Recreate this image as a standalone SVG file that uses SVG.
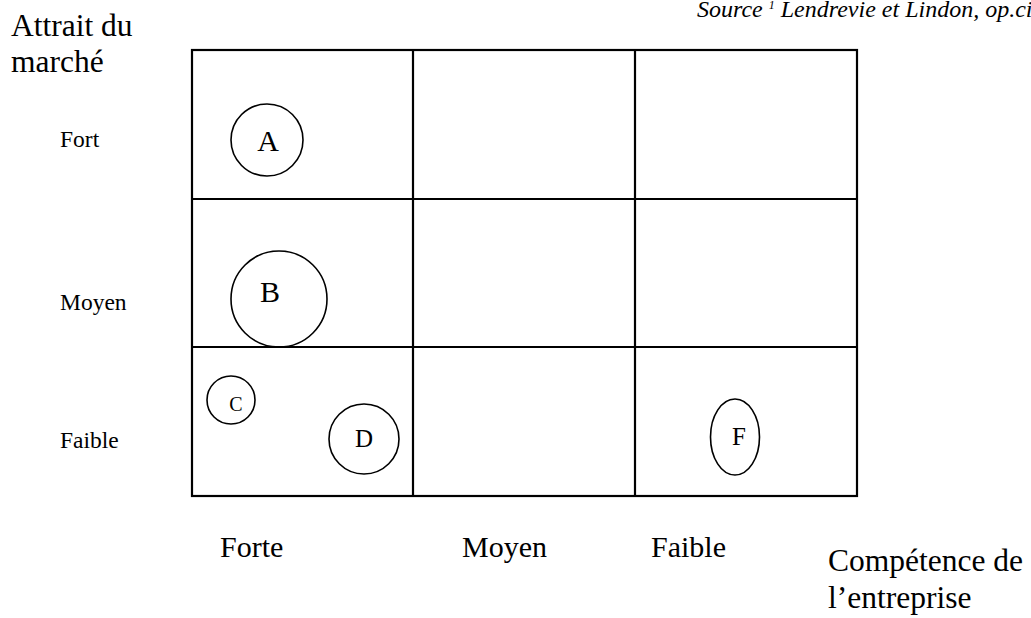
<svg xmlns="http://www.w3.org/2000/svg" width="1031" height="618" viewBox="0 0 1031 618">
  <style>
    text { font-family: "Liberation Serif", "Times New Roman", serif; fill: #000; }
    .title { font-size: 31.5px; }
    .big { font-size: 30px; }
    .small { font-size: 23.5px; }
    .src { font-size: 24px; font-style: italic; }
    .grid { fill: none; stroke: #000; stroke-width: 2.2; }
    .bubble { fill: none; stroke: #000; stroke-width: 1.6; }
    .lbl { text-anchor: middle; }
  </style>
  <rect width="1031" height="618" fill="#fff"/>

  <!-- source note (runs past the right edge) -->
  <text class="src" x="697" y="17">Source <tspan font-size="12" dy="-8">1</tspan><tspan dy="8"> Lendrevie et Lindon, op.cit.</tspan></text>

  <!-- vertical axis title and row labels -->
  <text class="title" x="11" y="36">Attrait du</text>
  <text class="title" x="11" y="72">marché</text>
  <text class="small" x="60" y="147">Fort</text>
  <text class="small" x="60" y="310">Moyen</text>
  <text class="small" x="60" y="448">Faible</text>

  <!-- horizontal axis labels -->
  <text class="big" x="220" y="557">Forte</text>
  <text class="big" x="462" y="557">Moyen</text>
  <text class="big" x="651" y="557">Faible</text>
  <text class="title" x="828" y="571">Compétence de</text>
  <text class="title" x="828" y="608">l’entreprise</text>

  <!-- 3x3 matrix -->
  <g id="matrix">
    <rect class="grid" x="192" y="50" width="665" height="446"/>
    <line class="grid" x1="413" y1="50" x2="413" y2="496"/>
    <line class="grid" x1="635" y1="50" x2="635" y2="496"/>
    <line class="grid" x1="192" y1="199" x2="857" y2="199"/>
    <line class="grid" x1="192" y1="347" x2="857" y2="347"/>
  </g>

  <!-- activity bubbles -->
  <g id="node-A">
    <circle class="bubble" cx="267" cy="140" r="36"/>
    <text class="big lbl" x="268" y="151">A</text>
  </g>
  <g id="node-B">
    <circle class="bubble" cx="279" cy="299" r="48"/>
    <text class="big lbl" x="270" y="302">B</text>
  </g>
  <g id="node-C">
    <circle class="bubble" cx="231" cy="400" r="24"/>
    <text class="lbl" font-size="20" x="236" y="411">C</text>
  </g>
  <g id="node-D">
    <circle class="bubble" cx="364" cy="439" r="35"/>
    <text class="lbl" font-size="25" x="364" y="447">D</text>
  </g>
  <g id="node-F">
    <ellipse class="bubble" cx="735" cy="437" rx="24.5" ry="38"/>
    <text class="lbl" font-size="25" x="739" y="445">F</text>
  </g>
</svg>
